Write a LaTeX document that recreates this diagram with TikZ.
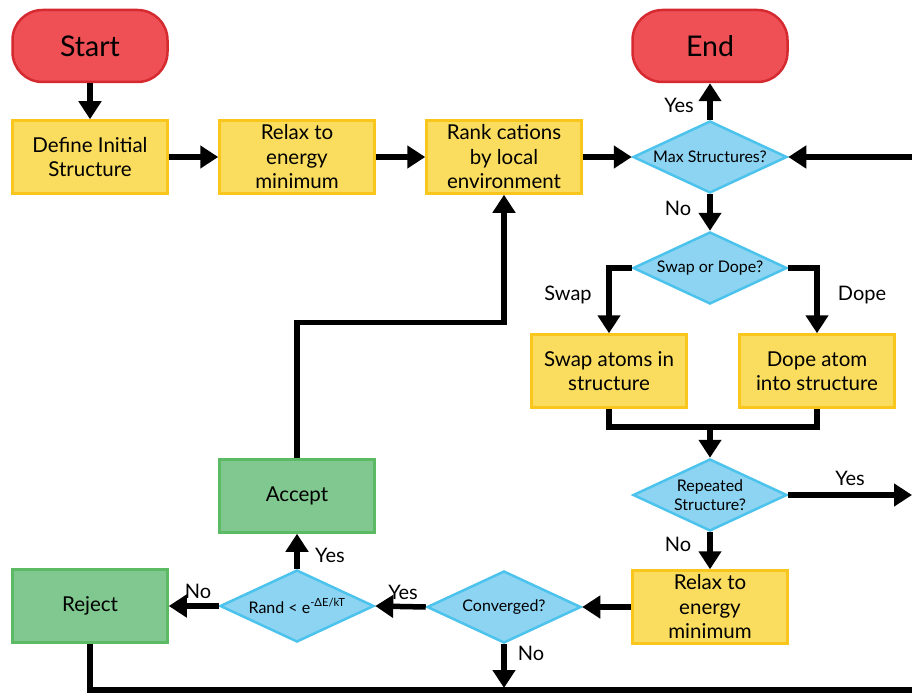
\documentclass[tikz,border=0pt]{standalone}
\usepackage{fontspec}
\setmainfont{Lato}
\usetikzlibrary{shapes.geometric,arrows.meta}
\definecolor{redfill}{HTML}{EF5055}
\definecolor{redline}{HTML}{D42A30}
\definecolor{yelfill}{HTML}{FADC5E}
\definecolor{yelline}{HTML}{F8C61C}
\definecolor{bluefill}{HTML}{8DD4F2}
\definecolor{blueline}{HTML}{4CC3EC}
\definecolor{grnfill}{HTML}{80C88F}
\definecolor{grnline}{HTML}{5CBA64}
\tikzset{
  term/.style={rectangle, rounded corners=30pt, fill=redfill, draw=redline, line width=2.5pt,
    minimum width=155pt, minimum height=72pt, inner sep=0pt, font=\fontsize{28.5}{30}\selectfont},
  proc/.style={rectangle, fill=yelfill, draw=yelline, line width=2.5pt,
    minimum width=155pt, minimum height=73pt, inner sep=0pt, align=center,
    font=\fontsize{20.5}{24.5}\selectfont},
  gproc/.style={proc, fill=grnfill, draw=grnline},
  dec/.style={diamond, fill=bluefill, draw=blueline, line width=2.5pt,
    minimum width=154pt, minimum height=72pt, inner sep=0pt},
  dectext/.style={align=center, inner sep=0pt, font=\fontsize{16}{19.5}\selectfont},
  conn/.style={line width=5.5pt, -{Triangle[length=18pt,width=22pt]}},
  plain/.style={line width=5.5pt},
  lbl/.style={font=\fontsize{20}{22}\selectfont, inner sep=0pt}
}
\begin{document}
\begin{tikzpicture}[x=1pt,y=-1pt]
\useasboundingbox (0,0) rectangle (912,695);
% nodes
\node[term] (start) at (90,46) {Start};
\node[term] (end) at (710,46) {End};
\node[proc] (define) at (90,157) {Define Initial\\Structure};
\node[proc] (relax1) at (297,157) {Relax to\\energy\\minimum};
\node[proc] (rank) at (504,157) {Rank cations\\by local\\environment};
\node[dec, label={[dectext]center:Max Structures?}] (max) at (710,157) {};
\node[dec, label={[dectext]center:Swap or Dope?}] (sd) at (710,268) {};
\node[proc] (swap) at (609,371) {Swap atoms in\\structure};
\node[proc] (dope) at (817,371) {Dope atom\\into structure};
\node[dec, label={[dectext]center:Repeated\\Structure?}] (rep) at (710,495) {};
\node[proc] (relax2) at (710,607) {Relax to\\energy\\minimum};
\node[dec, label={[dectext]center:Converged?}] (conv) at (504,607) {};
\node[dec, label={[dectext]center:Rand < e\textsuperscript{-ΔE/kT}}] (rand) at (297,606) {};
\node[gproc] (reject) at (90,606) {Reject};
\node[gproc] (accept) at (297,496) {Accept};
% free ends
\coordinate (rightin) at (912,157);
\coordinate (repout) at (912,495);
\coordinate (merge) at (710,427);
\coordinate (convend) at (504,688);
\coordinate (botright) at (912,690);
% connectors
\draw[conn] (start.south) -- (define.north);
\draw[conn] (define.east) -- (relax1.west);
\draw[conn] (relax1.east) -- (rank.west);
\draw[conn] (rank.east) -- (max.west);
\draw[conn] (max.north) -- (end.south);
\draw[conn] (max.south) -- (sd.north);
\draw[conn] (rightin) -- (max.east);
\draw[conn] (sd.west) -| (swap.north);
\draw[conn] (sd.east) -| (dope.north);
\draw[plain] (swap.south) |- (merge) -| (dope.south);
\draw[conn] (merge) -- (rep.north);
\draw[conn] (rep.east) -- (repout);
\draw[conn] (rep.south) -- (relax2.north);
\draw[conn] (relax2.west) -- (conv.east);
\draw[conn] (conv.west) -- (rand.east);
\draw[conn] (conv.south) -- (convend);
\draw[conn] (rand.west) -- (reject.east);
\draw[conn] (rand.north) -- (accept.south);
\draw[conn] (accept.north) -- ++(0,-136) -| (rank.south);
\draw[plain] (reject.south) |- (botright);
% labels
\node[lbl] (l1) at (679,105) {Yes};
\node[lbl] (l2) at (678,208) {No};
\node[lbl] (l3) at (568,295) {Swap};
\node[lbl] (l4) at (862,295) {Dope};
\node[lbl] (l5) at (850,478) {Yes};
\node[lbl] (l6) at (678,544) {No};
\node[lbl] (l7) at (403,592) {Yes};
\node[lbl] (l8) at (531,653) {No};
\node[lbl] (l9) at (198,591) {No};
\node[lbl] (l10) at (330,555) {Yes};
\end{tikzpicture}
\end{document}
